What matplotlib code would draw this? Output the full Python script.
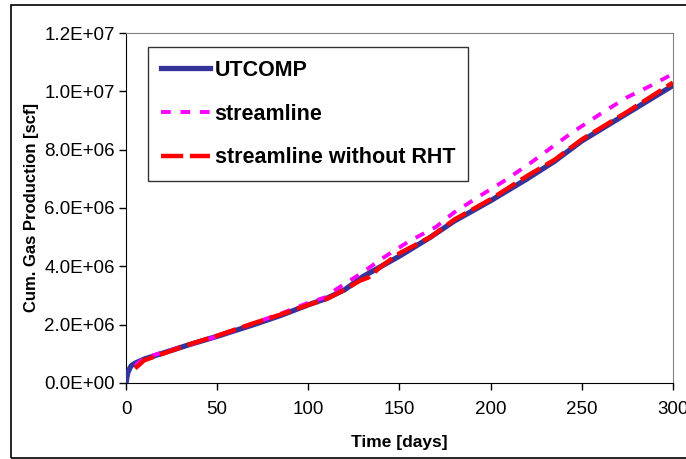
import numpy as np
import matplotlib.pyplot as plt
from matplotlib.patches import Rectangle

# cumulative gas production
t_utcomp = [0, 0.5, 1, 2, 3, 5, 10, 20, 35, 50, 70, 85, 100, 110, 120, 130, 150,
            167, 180, 200, 220, 235, 250, 275, 300]
q_utcomp = [0, 0.2e6, 0.35e6, 0.5e6, 0.6e6, 0.68e6, 0.82e6, 1.02e6, 1.32e6, 1.6e6,
            2.0e6, 2.32e6, 2.68e6, 2.9e6, 3.2e6, 3.65e6, 4.35e6, 5.0e6, 5.55e6,
            6.25e6, 7.0e6, 7.6e6, 8.3e6, 9.25e6, 10.2e6]

t_stream = [5, 10, 20, 35, 50, 70, 85, 100, 110, 115, 130, 140, 155, 170, 180,
            195, 208, 222, 235, 245, 262, 275, 288, 300]
q_stream = [0.6e6, 0.85e6, 1.05e6, 1.32e6, 1.6e6, 2.05e6, 2.38e6, 2.75e6, 2.95e6,
            3.2e6, 3.8e6, 4.25e6, 4.85e6, 5.35e6, 5.85e6, 6.45e6, 6.95e6, 7.55e6,
            8.15e6, 8.6e6, 9.3e6, 9.8e6, 10.2e6, 10.6e6]

t_norht = [5, 10, 20, 35, 50, 70, 85, 100, 110, 120, 128, 133, 140, 150, 167,
           180, 200, 220, 235, 250, 275, 300]
q_norht = [0.5e6, 0.78e6, 1.0e6, 1.33e6, 1.62e6, 2.05e6, 2.35e6, 2.68e6, 2.88e6,
           3.2e6, 3.5e6, 3.62e6, 4.0e6, 4.45e6, 5.0e6, 5.6e6, 6.3e6, 7.1e6, 7.65e6,
           8.35e6, 9.3e6, 10.3e6]

y_ticks = [0, 2e6, 4e6, 6e6, 8e6, 1e7, 1.2e7]
y_labels = ['0.0E+00', '2.0E+06', '4.0E+06', '6.0E+06', '8.0E+06', '1.0E+07', '1.2E+07']

plt.rcParams['font.family'] = ['Liberation Sans', 'DejaVu Sans']

fig = plt.figure(figsize=(6.86, 4.59), dpi=100)
ax = fig.add_axes([0.1837, 0.1656, 0.7973, 0.7625])

ax.plot(t_utcomp, q_utcomp, color='#333399', lw=3.8, label='UTCOMP', zorder=3)
ax.plot(t_stream, q_stream, color='#ff00ff', lw=2.8, ls=(0, (2.5, 2.5)),
        label='streamline', zorder=4)
ax.plot(t_norht, q_norht, color='#ff0000', lw=3.2, ls=(0, (5, 1.5)),
        label='streamline without RHT', zorder=5)

ax.set_xlim(0, 300)
ax.set_ylim(0, 1.2e7)
ax.set_xticks(np.arange(0, 301, 50))
ax.set_yticks(y_ticks)
ax.set_yticklabels(y_labels)
ax.tick_params(direction='out', length=5, width=1, labelsize=13.5)
ax.tick_params(axis='x', pad=8)
ax.tick_params(axis='y', pad=3)

ax.set_xlabel('Time [days]', fontsize=12.5, fontweight='bold', labelpad=12)
ax.set_ylabel('Cum. Gas Production [scf]', fontsize=12, fontweight='bold', labelpad=4)

for s in ['top', 'right']:
    ax.spines[s].set_color('#808080')
for s in ['left', 'bottom']:
    ax.spines[s].set_color('black')

leg = ax.legend(loc='upper left', bbox_to_anchor=(0.04, 0.96),
                prop={'weight': 'bold', 'size': 15.5}, frameon=True, fancybox=False,
                edgecolor='black', handlelength=2.3, handletextpad=0.2,
                labelspacing=1.05, borderpad=0.6, borderaxespad=0)
leg.get_frame().set_linewidth(1.0)

# outer frame around the whole picture
fig.patches.append(Rectangle((0.016, 0.003), 1.0, 0.986, transform=fig.transFigure,
                             fill=False, edgecolor='black', lw=1.2))

plt.savefig('out.png', dpi=100)
